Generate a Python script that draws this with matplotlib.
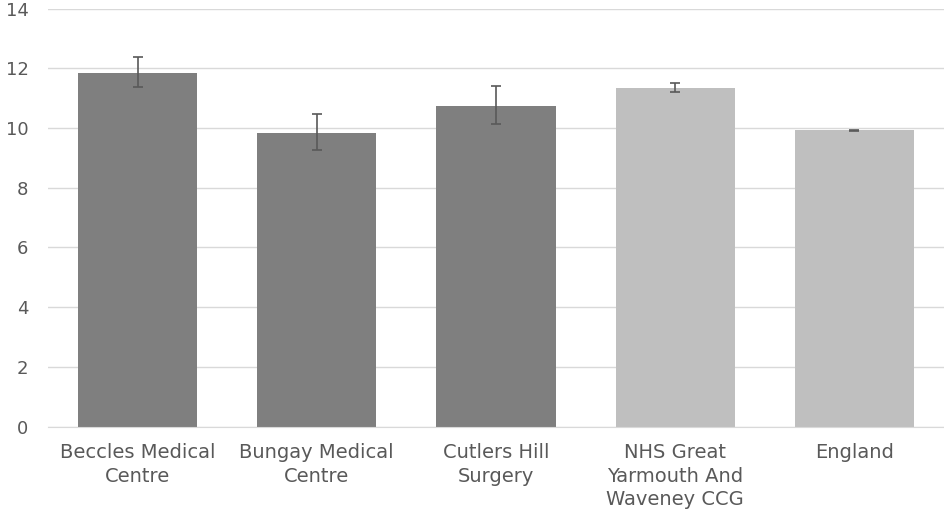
import matplotlib.pyplot as plt
import numpy as np

categories = ["Beccles Medical\nCentre", "Bungay Medical\nCentre", "Cutlers Hill\nSurgery",
              "NHS Great\nYarmouth And\nWaveney CCG", "England"]
values = [11.85, 9.83, 10.73, 11.33, 9.92]
err_low = [11.38, 9.27, 10.12, 11.22, 9.90]
err_high = [12.36, 10.47, 11.41, 11.50, 9.94]
colours = ["#7f7f7f", "#7f7f7f", "#7f7f7f", "#bfbfbf", "#bfbfbf"]

plt.rcParams['font.family'] = ['DejaVu Sans']

fig = plt.figure(figsize=(9.44, 5.16), dpi=100)
ax = fig.add_axes([48 / 944, 89.5 / 516, 896 / 944, 418 / 516])

x = np.arange(len(categories))
vals = np.array(values)
yerr = np.array([vals - np.array(err_low), np.array(err_high) - vals])
ax.bar(x, values, width=0.665, color=colours, zorder=2)
ax.errorbar(x, values, yerr=yerr, fmt="none", ecolor="#595959", elinewidth=1.2,
            capsize=3.8, capthick=1.2, zorder=3)

ax.set_xlim(-0.5, 4.5)
ax.set_ylim(0, 14)
ax.set_yticks(range(0, 15, 2))
ax.yaxis.grid(True, color="#d9d9d9", linewidth=1, zorder=0)
ax.set_axisbelow(True)
for s in ["top", "right", "left"]:
    ax.spines[s].set_visible(False)
ax.spines["bottom"].set_color("#d9d9d9")
ax.tick_params(axis="both", length=0, labelcolor="#595959")
ax.tick_params(axis="y", pad=14, labelsize=13)
ax.tick_params(axis="x", pad=12, labelsize=14)
ax.set_xticks(x)
ax.set_xticklabels(categories, linespacing=1.3)

fig.savefig("out.png", dpi=100)
